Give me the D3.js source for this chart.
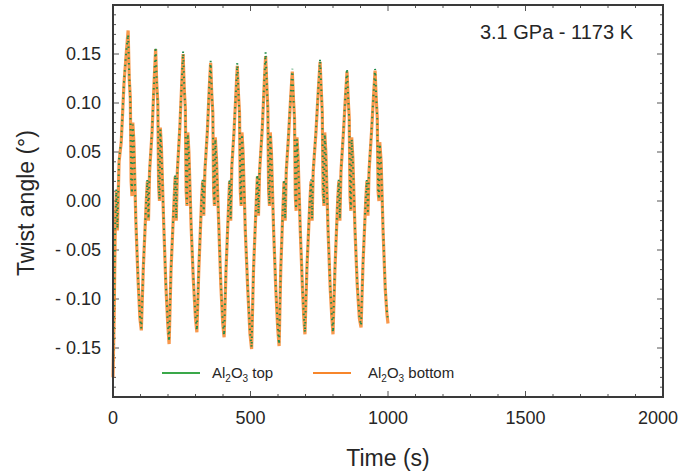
<!DOCTYPE html>
<html>
<head>
<meta charset="utf-8">
<script src="https://cdn.jsdelivr.net/npm/d3@7"></script>
<style>
  body { margin: 0; background: #fff; }
  svg text { font-family: "Liberation Sans", Arial, sans-serif; fill: #262626; }
</style>
</head>
<body>
<div id="chart"></div>
<script>
// time (s)
var times = [0, 4, 8, 12, 16, 22, 30, 40, 48, 55,
  59, 63, 66, 69, 72, 76, 83, 91, 98, 103,
  110, 121, 125, 129, 133, 142, 150, 155,
  159, 163, 166, 169, 172, 176, 184, 192, 199, 204,
  211, 222, 226, 230, 234, 243, 250, 255,
  259, 263, 266, 269, 272, 276, 284, 292, 300, 305,
  312, 322, 326, 330, 334, 343, 350, 355,
  359, 363, 366, 369, 372, 376, 384, 392, 399, 404,
  411, 421, 424, 428, 432, 440, 447, 452,
  456, 460, 463, 466, 469, 473, 481, 490, 498, 504,
  511, 521, 525, 529, 533, 543, 550, 555,
  559, 563, 566, 569, 572, 576, 584, 592, 599, 604,
  610, 619, 622, 626, 630, 638, 646, 652,
  656, 660, 663, 666, 669, 673, 681, 689, 694, 698,
  705, 716, 720, 724, 728, 738, 746, 753,
  757, 761, 764, 767, 770, 774, 782, 790, 796, 800,
  807, 817, 821, 825, 829, 838, 845, 851,
  855, 859, 862, 865, 868, 872, 880, 888, 896, 902,
  909, 919, 923, 927, 931, 940, 947, 953,
  957, 961, 964, 967, 970, 975, 982, 990, 996, 1000];

// Al2O3 bottom (deg)
var bottomAngle = [-0.18, -0.12, -0.03, 0.01, -0.03, 0.04, 0.06, 0.12, 0.15, 0.174,
  0.125, 0.105, 0.02, 0.005, 0.08, 0.06, -0.02, -0.08, -0.12, -0.132,
  -0.07, 0.0, 0.02, -0.02, 0.03, 0.07, 0.125, 0.155,
  0.12, 0.10, 0.015, 0.0, 0.075, 0.055, -0.02, -0.085, -0.125, -0.146,
  -0.07, 0.0, 0.025, -0.02, 0.03, 0.075, 0.12, 0.15,
  0.115, 0.095, 0.01, -0.005, 0.07, 0.05, -0.025, -0.08, -0.12, -0.134,
  -0.07, 0.0, 0.02, -0.015, 0.03, 0.07, 0.115, 0.141,
  0.11, 0.09, 0.01, -0.005, 0.065, 0.045, -0.02, -0.085, -0.125, -0.139,
  -0.07, 0.0, 0.02, -0.02, 0.035, 0.07, 0.11, 0.138,
  0.11, 0.09, 0.01, -0.005, 0.07, 0.05, -0.03, -0.09, -0.135, -0.151,
  -0.07, 0.0, 0.025, -0.015, 0.03, 0.075, 0.12, 0.148,
  0.12, 0.095, 0.01, -0.005, 0.07, 0.05, -0.03, -0.09, -0.13, -0.148,
  -0.07, 0.0, 0.02, -0.02, 0.03, 0.065, 0.105, 0.132,
  0.105, 0.085, 0.005, -0.01, 0.065, 0.045, -0.03, -0.09, -0.12, -0.136,
  -0.07, 0.0, 0.02, -0.02, 0.03, 0.07, 0.11, 0.142,
  0.115, 0.09, 0.01, -0.005, 0.07, 0.05, -0.03, -0.09, -0.12, -0.136,
  -0.07, 0.0, 0.02, -0.02, 0.03, 0.07, 0.105, 0.132,
  0.105, 0.085, 0.005, -0.01, 0.065, 0.045, -0.03, -0.085, -0.12, -0.129,
  -0.065, 0.0, 0.02, -0.015, 0.03, 0.07, 0.105, 0.133,
  0.105, 0.085, 0.01, 0.0, 0.06, 0.04, -0.03, -0.09, -0.115, -0.125];

// Al2O3 top (deg)
var topAngle = [-0.175, -0.115, -0.025, 0.012, -0.028, 0.042, 0.062, 0.122, 0.152, 0.17,
  0.128, 0.102, 0.022, 0.008, 0.078, 0.058, -0.018, -0.078, -0.118, -0.13,
  -0.068, 0.002, 0.022, -0.018, 0.032, 0.072, 0.127, 0.157,
  0.122, 0.098, 0.017, 0.002, 0.073, 0.053, -0.018, -0.083, -0.123, -0.143,
  -0.068, 0.002, 0.027, -0.018, 0.032, 0.077, 0.122, 0.153,
  0.117, 0.093, 0.012, -0.003, 0.068, 0.048, -0.023, -0.078, -0.118, -0.132,
  -0.068, 0.002, 0.022, -0.013, 0.032, 0.072, 0.117, 0.143,
  0.112, 0.088, 0.012, -0.003, 0.063, 0.043, -0.018, -0.083, -0.123, -0.137,
  -0.068, 0.002, 0.022, -0.018, 0.037, 0.072, 0.112, 0.141,
  0.112, 0.088, 0.012, -0.003, 0.068, 0.048, -0.028, -0.088, -0.133, -0.149,
  -0.068, 0.002, 0.027, -0.013, 0.032, 0.077, 0.122, 0.152,
  0.122, 0.093, 0.012, -0.003, 0.068, 0.048, -0.028, -0.088, -0.128, -0.146,
  -0.068, 0.002, 0.022, -0.018, 0.032, 0.067, 0.107, 0.135,
  0.107, 0.083, 0.007, -0.008, 0.063, 0.043, -0.028, -0.088, -0.118, -0.134,
  -0.068, 0.002, 0.022, -0.018, 0.032, 0.072, 0.112, 0.145,
  0.117, 0.088, 0.012, -0.003, 0.068, 0.048, -0.028, -0.088, -0.118, -0.134,
  -0.068, 0.002, 0.022, -0.018, 0.032, 0.072, 0.107, 0.135,
  0.107, 0.083, 0.007, -0.008, 0.063, 0.043, -0.028, -0.083, -0.118, -0.127,
  -0.063, 0.002, 0.022, -0.013, 0.032, 0.072, 0.107, 0.135,
  0.107, 0.083, 0.012, 0.002, 0.058, 0.038, -0.028, -0.088, -0.113, -0.122];

var xTicks = [0, 500, 1000, 1500, 2000];
var yTicks = [-0.15, -0.10, -0.05, 0.00, 0.05, 0.10, 0.15];

var w = 680;
var h = 476;
var margin = {top: 5, right: 17, bottom: 79, left: 113};

var svg = d3.select("#chart")
    .append("svg")
    .attr("width", w)
    .attr("height", h);

var x = d3.scaleLinear().domain([0, 2000]).range([margin.left, w - margin.right]);
var y = d3.scaleLinear().domain([-0.2, 0.2]).range([h - margin.bottom, margin.top]);

function fmtY(d) {
    var s = Math.abs(d).toFixed(2);
    return d < -0.001 ? "- " + s : s;
}

// ticks on all four sides, pointing inward
var xMinor = d3.range(0, 2001, 100);
var yMinor = d3.range(-20, 21, 1).map(function(d) { return d / 100; });

var g = svg.append("g");

g.selectAll("line.xb").data(xMinor).enter().append("line")
    .attr("x1", function(d) { return x(d); }).attr("x2", function(d) { return x(d); })
    .attr("y1", y(-0.2)).attr("y2", function(d) { return y(-0.2) - (d % 500 === 0 ? 6 : 3); })
    .attr("stroke", "#555").attr("stroke-width", 1);
g.selectAll("line.xt").data(xMinor).enter().append("line")
    .attr("x1", function(d) { return x(d); }).attr("x2", function(d) { return x(d); })
    .attr("y1", y(0.2)).attr("y2", function(d) { return y(0.2) + (d % 500 === 0 ? 6 : 3); })
    .attr("stroke", "#555").attr("stroke-width", 1);
g.selectAll("line.yl").data(yMinor).enter().append("line")
    .attr("y1", function(d) { return y(d); }).attr("y2", function(d) { return y(d); })
    .attr("x1", x(0)).attr("x2", function(d) { return x(0) + (Math.round(d * 100) % 5 === 0 ? 6 : 3); })
    .attr("stroke", "#555").attr("stroke-width", 1);
g.selectAll("line.yr").data(yMinor).enter().append("line")
    .attr("y1", function(d) { return y(d); }).attr("y2", function(d) { return y(d); })
    .attr("x1", x(2000)).attr("x2", function(d) { return x(2000) - (Math.round(d * 100) % 5 === 0 ? 6 : 3); })
    .attr("stroke", "#555").attr("stroke-width", 1);

// tick labels (last one kept inside the page)
svg.selectAll("text.xlab").data(xTicks).enter().append("text")
    .attr("class", "xlab")
    .attr("x", function(d) { return Math.min(x(d), w - 22); })
    .attr("y", h - margin.bottom + 27)
    .attr("text-anchor", "middle")
    .attr("font-size", 18)
    .text(function(d) { return d; });

svg.selectAll("text.ylab").data(yTicks).enter().append("text")
    .attr("class", "ylab")
    .attr("x", margin.left - 12)
    .attr("y", function(d) { return y(d) + 6; })
    .attr("text-anchor", "end")
    .attr("font-size", 18)
    .text(fmtY);

// axis titles
svg.append("text")
    .attr("x", x(1000))
    .attr("y", 466)
    .attr("text-anchor", "middle")
    .attr("font-size", 23)
    .text("Time (s)");

svg.append("text")
    .attr("transform", "translate(34,203) rotate(-90)")
    .attr("text-anchor", "middle")
    .attr("font-size", 23)
    .text("Twist angle (°)");

// data lines
var angleLine = d3.line()
    .x(function(d, i) { return x(times[i]); })
    .y(function(d) { return y(d); });

svg.append("path")
    .datum(bottomAngle)
    .attr("d", angleLine)
    .attr("fill", "none")
    .attr("stroke", "#f7862b")
    .attr("stroke-width", 3.2)
    .attr("stroke-opacity", 0.85);

svg.append("path")
    .datum(topAngle)
    .attr("d", angleLine)
    .attr("fill", "none")
    .attr("stroke", "#1e8c4a")
    .attr("stroke-width", 2)
    .attr("stroke-dasharray", "1.5,4");

// frame
svg.append("rect")
    .attr("x", x(0)).attr("y", y(0.2))
    .attr("width", x(2000) - x(0)).attr("height", y(-0.2) - y(0.2))
    .attr("fill", "none")
    .attr("stroke", "#3a3a3a")
    .attr("stroke-width", 2);

// annotation
svg.append("text")
    .attr("x", 633)
    .attr("y", 39)
    .attr("text-anchor", "end")
    .attr("font-size", 20)
    .text("3.1 GPa - 1173 K");

// legend
var legend = [
    {name: "top", color: "#3aa84a", x1: 162, tx: 212},
    {name: "bottom", color: "#f7862b", x1: 313, tx: 368}
];
var lg = svg.selectAll("g.legend").data(legend).enter().append("g").attr("class", "legend");
lg.append("line")
    .attr("x1", function(d) { return d.x1; })
    .attr("x2", function(d) { return d.x1 + 38; })
    .attr("y1", 373).attr("y2", 373)
    .attr("stroke", function(d) { return d.color; })
    .attr("stroke-width", 2);
var lt = lg.append("text")
    .attr("x", function(d) { return d.tx; })
    .attr("y", 378)
    .attr("font-size", 15);
lt.append("tspan").text("Al");
lt.append("tspan").attr("font-size", 10).attr("dy", 4).text("2");
lt.append("tspan").attr("dy", -4).text("O");
lt.append("tspan").attr("font-size", 10).attr("dy", 4).text("3");
lt.append("tspan").attr("dy", -4).text(function(d) { return " " + d.name; });
</script>
</body>
</html>
